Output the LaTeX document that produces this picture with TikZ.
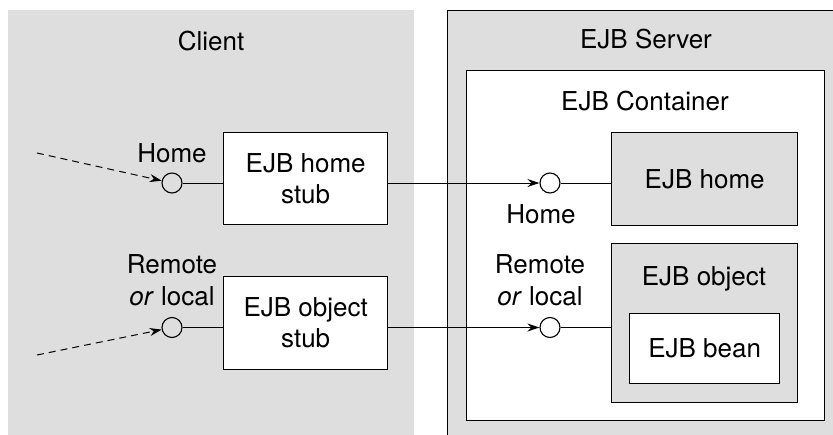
\documentclass[tikz,border=0pt]{standalone}
\usepackage{fontspec}
\setmainfont{TeX Gyre Heros}
\usetikzlibrary{arrows.meta}
\definecolor{panelgray}{HTML}{DEDEDE}
\begin{document}
\begin{tikzpicture}[x=1pt,y=-1pt,
  font=\fontsize{26}{31}\selectfont,
  panel/.style={fill=panelgray, draw=none, inner sep=0, anchor=north west},
  frame/.style={draw=black, line width=1.3pt, inner sep=0, anchor=north west},
  box/.style={frame, align=center},
  port/.style={circle, draw, line width=1.1pt, minimum size=20pt, inner sep=0},
  wire/.style={line width=1pt},
  arr/.style={wire, -{Stealth[length=12pt,width=8pt]}},
  dasharr/.style={arr, dash pattern=on 7pt off 5pt},
  lbl/.style={anchor=base, inner sep=0}]
\useasboundingbox (0,0) rectangle (833,434);
\clip (0,0) rectangle (833,434);

% client side
\node[panel, minimum width=406, minimum height=440] (client) at (8,10) {};
\node[lbl] (clientlbl) at (211,50) {Client};

% server side
\node[frame, fill=panelgray, minimum width=420, minimum height=440] (server) at (446.5,10) {};
\node[lbl] (serverlbl) at (646,48) {EJB Server};
\node[frame, fill=white, minimum width=358, minimum height=350] (container) at (466,70) {};
\node[lbl] (containerlbl) at (645,110) {EJB Container};

\node[box, fill=panelgray, minimum width=186, minimum height=93] (ejbhome) at (611,132) {EJB home};
\node[frame, fill=panelgray, minimum width=186, minimum height=159] (ejbobject) at (611,243) {};
\node[lbl] (ejbobjectlbl) at (704,285) {EJB object};
\node[box, fill=white, minimum width=150, minimum height=70] (ejbbean) at (629,313) {EJB bean};

% stubs
\node[box, fill=white, minimum width=164, minimum height=92] (hstub) at (223,132) {EJB home\\stub};
\node[box, fill=white, minimum width=164, minimum height=93] (ostub) at (223,276) {EJB object\\stub};

% interface ports
\node[port] (pcH) at (172,183) {};
\node[port] (pcR) at (172,327.5) {};
\node[port] (psH) at (550,183) {};
\node[port] (psR) at (550,327.5) {};

% port labels
\node[lbl] (lcH) at (172,162) {Home};
\node[lbl] (lcR1) at (172,273) {Remote};
\node[lbl] (lcR2) at (172,305) {\textit{or} local};
\node[lbl] (lsH) at (541,223) {Home};
\node[lbl] (lsR1) at (540,273) {Remote};
\node[lbl] (lsR2) at (540,305) {\textit{or} local};

% connectors
\coordinate (dH) at (37,153);
\coordinate (dR) at (37,355);
\draw[dasharr] (dH) -- (pcH);
\draw[dasharr] (dR) -- (pcR);
\draw[wire] (pcH) -- (hstub.west |- pcH);
\draw[wire] (pcR) -- (ostub.west |- pcR);
\draw[arr] (hstub.east |- psH) -- (psH);
\draw[arr] (ostub.east |- psR) -- (psR);
\draw[wire] (psH) -- (ejbhome.west |- psH);
\draw[wire] (psR) -- (ejbobject.west |- psR);
\end{tikzpicture}
\end{document}
